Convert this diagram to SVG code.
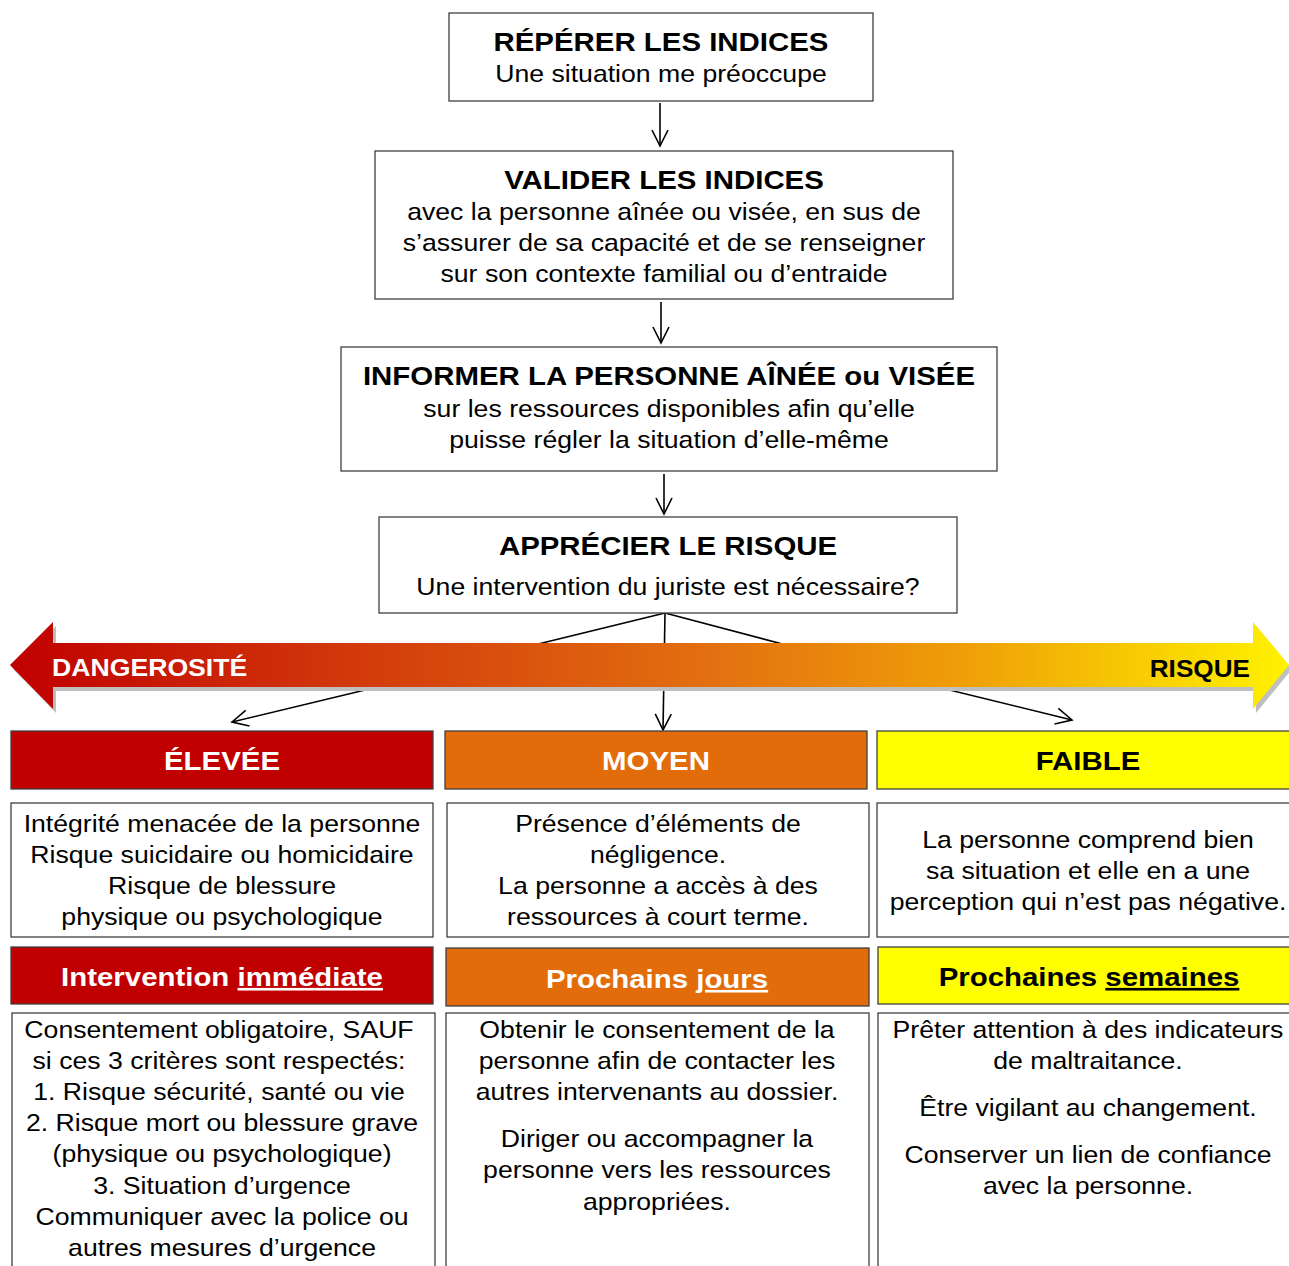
<svg xmlns="http://www.w3.org/2000/svg" width="1289" height="1266" viewBox="0 0 1289 1266">
<style>
.box{fill:#fff;stroke:#404040;stroke-width:1.3}
.t{font-family:"Liberation Sans",Arial,sans-serif;font-size:24px;fill:#000;text-anchor:middle}
.h{font-family:"Liberation Sans",Arial,sans-serif;font-size:26.5px;font-weight:bold;fill:#000;text-anchor:middle}
.con{stroke:#000;stroke-width:1.6;fill:none}
</style>
<defs>
<marker id="arr" viewBox="0 0 20 20" refX="18" refY="10" markerWidth="20" markerHeight="20" markerUnits="userSpaceOnUse" orient="auto">
<path d="M2,2 L18,10 L2,18" fill="none" stroke="#000" stroke-width="1.6"/>
</marker>
<linearGradient id="g" x1="0" y1="0" x2="1" y2="0">
<stop offset="0" stop-color="#C00000"/>
<stop offset="0.3" stop-color="#D4400C"/>
<stop offset="0.55" stop-color="#E37010"/>
<stop offset="0.75" stop-color="#EFA008"/>
<stop offset="1" stop-color="#FFF200"/>
</linearGradient>
</defs>

<g id="connectors">
<line class="con" x1="660" y1="103" x2="660" y2="146" marker-end="url(#arr)"/>
<line class="con" x1="661" y1="302" x2="661" y2="343" marker-end="url(#arr)"/>
<line class="con" x1="664" y1="474" x2="664" y2="514" marker-end="url(#arr)"/>
<line class="con" x1="665" y1="613" x2="530" y2="646"/>
<line class="con" x1="390" y1="684" x2="232" y2="722" marker-end="url(#arr)"/>
<line class="con" x1="665" y1="613" x2="663" y2="730" marker-end="url(#arr)"/>
<line class="con" x1="665" y1="613" x2="790" y2="646"/>
<line class="con" x1="925" y1="684" x2="1072" y2="720" marker-end="url(#arr)"/>
</g>

<g id="bar">
<polygon points="10,665 53,622 53,643 1253,643 1253,622 1289,665 1253,709 1253,687 53,687 53,709" fill="#BFBFBF" transform="translate(3,4)"/>
<polygon points="10,665 53,622 53,643 1253,643 1253,622 1289,665 1253,709 1253,687 53,687 53,709" fill="url(#g)"/>
<text transform="translate(52,676) scale(1.11,1)" font-family="Liberation Sans,Arial,sans-serif" font-size="24" font-weight="bold" fill="#fff">DANGEROSITÉ</text>
<text transform="translate(1250,677) scale(1.09,1)" font-family="Liberation Sans,Arial,sans-serif" font-size="24" font-weight="bold" fill="#000" text-anchor="end">RISQUE</text>
</g>

<g id="n1">
<rect class="box" x="449" y="13" width="424" height="88"/>
<text class="h" transform="translate(661,51) scale(1.11,1)">RÉPÉRER LES INDICES</text>
<text class="t" transform="translate(661,82) scale(1.11,1)">Une situation me préoccupe</text>
</g>
<g id="n2">
<rect class="box" x="375" y="151" width="578" height="148"/>
<text class="h" transform="translate(664,189) scale(1.11,1)">VALIDER LES INDICES</text>
<text class="t" transform="translate(664,220) scale(1.11,1)">avec la personne aînée ou visée, en sus de</text>
<text class="t" transform="translate(664,251) scale(1.11,1)">s’assurer de sa capacité et de se renseigner</text>
<text class="t" transform="translate(664,282) scale(1.11,1)">sur son contexte familial ou d’entraide</text>
</g>
<g id="n3">
<rect class="box" x="341" y="347" width="656" height="124"/>
<text class="h" transform="translate(669,385) scale(1.11,1)">INFORMER LA PERSONNE AÎNÉE ou VISÉE</text>
<text class="t" transform="translate(669,417) scale(1.11,1)">sur les ressources disponibles afin qu’elle</text>
<text class="t" transform="translate(669,448) scale(1.11,1)">puisse régler la situation d’elle-même</text>
</g>
<g id="n4">
<rect class="box" x="379" y="517" width="578" height="96"/>
<text class="h" transform="translate(668,555) scale(1.11,1)">APPRÉCIER LE RISQUE</text>
<text class="t" transform="translate(668,595) scale(1.11,1)">Une intervention du juriste est nécessaire?</text>
</g>

<g id="elevee">
<rect class="box" x="11" y="731" width="422" height="58" style="fill:#C00000"/>
<text class="h" transform="translate(222,770) scale(1.11,1)" style="fill:#fff">ÉLEVÉE</text>
</g>
<g id="moyen">
<rect class="box" x="445" y="731" width="422" height="58" style="fill:#E36C0A"/>
<text class="h" transform="translate(656,770) scale(1.11,1)" style="fill:#fff">MOYEN</text>
</g>
<g id="faible">
<rect class="box" x="877" y="731" width="420" height="58" style="fill:#FFFF00"/>
<text class="h" transform="translate(1088,770) scale(1.11,1)">FAIBLE</text>
</g>

<g id="desc-elevee">
<rect class="box" x="11" y="803" width="422" height="134"/>
<text class="t" transform="translate(222,832) scale(1.11,1)">Intégrité menacée de la personne</text>
<text class="t" transform="translate(222,863) scale(1.11,1)">Risque suicidaire ou homicidaire</text>
<text class="t" transform="translate(222,894) scale(1.11,1)">Risque de blessure</text>
<text class="t" transform="translate(222,925) scale(1.11,1)">physique ou psychologique</text>
</g>
<g id="desc-moyen">
<rect class="box" x="447" y="803" width="422" height="134"/>
<text class="t" transform="translate(658,832) scale(1.11,1)">Présence d’éléments de</text>
<text class="t" transform="translate(658,863) scale(1.11,1)">négligence.</text>
<text class="t" transform="translate(658,894) scale(1.11,1)">La personne a accès à des</text>
<text class="t" transform="translate(658,925) scale(1.11,1)">ressources à court terme.</text>
</g>
<g id="desc-faible">
<rect class="box" x="877" y="803" width="420" height="134"/>
<text class="t" transform="translate(1088,848) scale(1.11,1)">La personne comprend bien</text>
<text class="t" transform="translate(1088,879) scale(1.11,1)">sa situation et elle en a une</text>
<text class="t" transform="translate(1088,910) scale(1.11,1)">perception qui n’est pas négative.</text>
</g>

<g id="delai-elevee">
<rect class="box" x="11" y="947" width="422" height="57" style="fill:#C00000"/>
<text class="h" transform="translate(222,986) scale(1.11,1)" style="fill:#fff">Intervention <tspan text-decoration="underline">immédiate</tspan></text>
</g>
<g id="delai-moyen">
<rect class="box" x="446" y="948" width="423" height="58" style="fill:#E36C0A"/>
<text class="h" transform="translate(657,988) scale(1.11,1)" style="fill:#fff">Prochains <tspan text-decoration="underline">jours</tspan></text>
</g>
<g id="delai-faible">
<rect class="box" x="878" y="947" width="419" height="57" style="fill:#FFFF00"/>
<text class="h" transform="translate(1089,986) scale(1.11,1)">Prochaines <tspan text-decoration="underline">semaines</tspan></text>
</g>

<g id="action-elevee">
<rect class="box" x="12" y="1013" width="423" height="270"/>
<text class="t" transform="translate(219,1038) scale(1.11,1)">Consentement obligatoire, SAUF</text>
<text class="t" transform="translate(219,1069) scale(1.11,1)">si ces 3 critères sont respectés:</text>
<text class="t" transform="translate(219,1100) scale(1.11,1)">1. Risque sécurité, santé ou vie</text>
<text class="t" transform="translate(222,1131) scale(1.11,1)">2. Risque mort ou blessure grave</text>
<text class="t" transform="translate(222,1162) scale(1.11,1)">(physique ou psychologique)</text>
<text class="t" transform="translate(222,1194) scale(1.11,1)">3. Situation d’urgence</text>
<text class="t" transform="translate(222,1225) scale(1.11,1)">Communiquer avec la police ou</text>
<text class="t" transform="translate(222,1256) scale(1.11,1)">autres mesures d’urgence</text>
</g>
<g id="action-moyen">
<rect class="box" x="446" y="1013" width="423" height="270"/>
<text class="t" transform="translate(657,1038) scale(1.11,1)">Obtenir le consentement de la</text>
<text class="t" transform="translate(657,1069) scale(1.11,1)">personne afin de contacter les</text>
<text class="t" transform="translate(657,1100) scale(1.11,1)">autres intervenants au dossier.</text>
<text class="t" transform="translate(657,1147) scale(1.11,1)">Diriger ou accompagner la</text>
<text class="t" transform="translate(657,1178) scale(1.11,1)">personne vers les ressources</text>
<text class="t" transform="translate(657,1210) scale(1.11,1)">appropriées.</text>
</g>
<g id="action-faible">
<rect class="box" x="878" y="1013" width="419" height="270"/>
<text class="t" transform="translate(1088,1038) scale(1.11,1)">Prêter attention à des indicateurs</text>
<text class="t" transform="translate(1088,1069) scale(1.11,1)">de maltraitance.</text>
<text class="t" transform="translate(1088,1116) scale(1.11,1)">Être vigilant au changement.</text>
<text class="t" transform="translate(1088,1163) scale(1.11,1)">Conserver un lien de confiance</text>
<text class="t" transform="translate(1088,1194) scale(1.11,1)">avec la personne.</text>
</g>
</svg>
